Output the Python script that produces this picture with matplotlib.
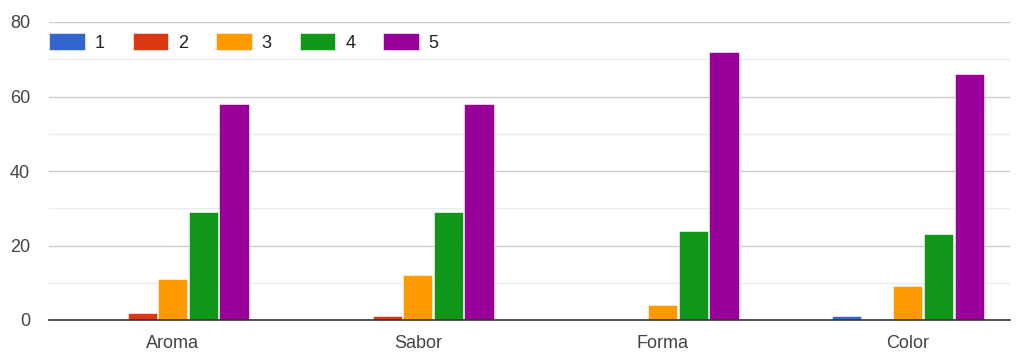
import matplotlib
matplotlib.use("Agg")
import matplotlib.pyplot as plt
import numpy as np
from matplotlib.ticker import MultipleLocator

categories = ["Aroma", "Sabor", "Forma", "Color"]
series_names = ["1", "2", "3", "4", "5"]
s1 = [0, 0, 0, 1]
s2 = [2, 1, 0, 0]
s3 = [11, 12, 4, 9]
s4 = [29, 29, 24, 23]
s5 = [58, 58, 72, 66]
colors = ["#3366cc", "#dc3912", "#ff9900", "#109618", "#990099"]

plt.rcParams["font.family"] = ["Liberation Sans", "DejaVu Sans"]
FS = 13

fig = plt.figure(figsize=(10.2, 3.52), dpi=100)
ax = fig.add_axes([49 / 1020, 1 - 320 / 352, 961 / 1020, 298 / 352])

x = np.arange(len(categories))
step = 0.125
bw = 0.119
handles = []
for i, (vals, c, name) in enumerate(zip([s1, s2, s3, s4, s5], colors, series_names)):
    offs = (i - 2) * step
    b = ax.bar(x + offs, vals, width=bw, color=c, label=name, zorder=3,
               edgecolor="white", linewidth=0.4)
    handles.append(b)

ax.set_xlim(-0.505, 3.417)
ax.set_ylim(0, 80)
ax.yaxis.set_major_locator(MultipleLocator(20))
ax.yaxis.set_minor_locator(MultipleLocator(10))
ax.grid(axis="y", which="major", color="#cccccc", linewidth=1, zorder=0)
ax.grid(axis="y", which="minor", color="#ebebeb", linewidth=1, zorder=0)
for s in ["top", "right", "left"]:
    ax.spines[s].set_visible(False)
ax.spines["bottom"].set_color("#333333")
ax.spines["bottom"].set_linewidth(1.2)
ax.spines["bottom"].set_zorder(4)
ax.set_xticks(x)
ax.set_xticklabels(categories)
ax.tick_params(axis="both", which="both", length=0, labelsize=FS, colors="#444444")
ax.tick_params(axis="x", pad=10.5)
ax.tick_params(axis="y", pad=13.5)

leg = fig.legend(handles=handles, loc="upper left", ncol=5, frameon=False,
                 fontsize=FS, handlelength=1.97, handleheight=1.1,
                 handletextpad=0.55, columnspacing=1.55,
                 bbox_to_anchor=(49.3 / 1020, 1 - 33 / 352), borderaxespad=0,
                 borderpad=0)
for t in leg.get_texts():
    t.set_color("#222222")

fig.savefig("out.png", dpi=100)
